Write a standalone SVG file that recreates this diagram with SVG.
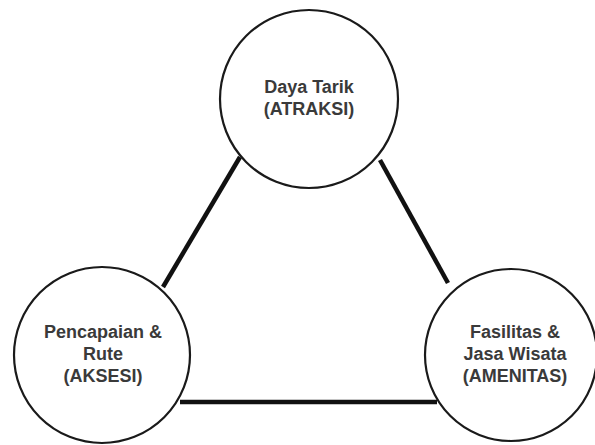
<svg xmlns="http://www.w3.org/2000/svg" width="595" height="445" viewBox="0 0 595 445">
  <style>
    .node circle { fill: #ffffff; stroke: #1a1a1a; stroke-width: 2.2; }
    .node text { font-family: "Liberation Sans", Arial, sans-serif; font-weight: bold; font-size: 18px; fill: #3a3a3a; text-anchor: middle; }
    .edge { stroke: #111111; stroke-width: 4.5; stroke-linecap: butt; fill: none; }
  </style>
  <rect width="595" height="445" fill="#ffffff"/>
  <g id="connectors">
    <line class="edge" x1="240" y1="157" x2="163" y2="287"/>
    <line class="edge" x1="380" y1="160" x2="448" y2="283"/>
    <line class="edge" x1="180" y1="402" x2="437" y2="402"/>
  </g>
  <g id="atraksi" class="node">
    <circle cx="309" cy="99" r="89"/>
    <text x="309" y="93">Daya Tarik</text>
    <text x="309" y="115">(ATRAKSI)</text>
  </g>
  <g id="aksesi" class="node">
    <circle cx="102" cy="355" r="88"/>
    <text x="103" y="338">Pencapaian &amp;</text>
    <text x="103" y="360">Rute</text>
    <text x="103" y="382">(AKSESI)</text>
  </g>
  <g id="amenitas" class="node">
    <circle cx="511" cy="355" r="86"/>
    <text x="515" y="338">Fasilitas &amp;</text>
    <text x="515" y="360">Jasa Wisata</text>
    <text x="515" y="382">(AMENITAS)</text>
  </g>
</svg>
